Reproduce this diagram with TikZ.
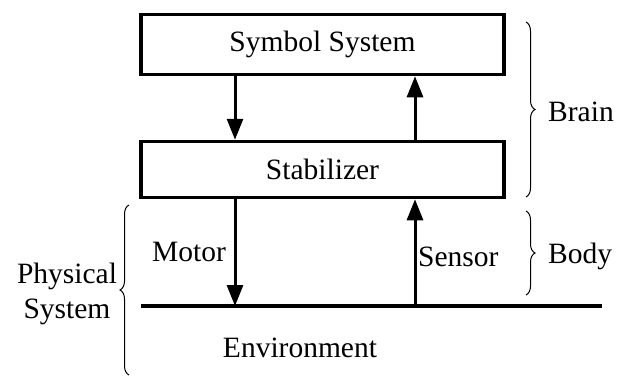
\documentclass[tikz,border=0pt]{standalone}
\usepackage{fontspec}
\setmainfont{Liberation Serif}
\usetikzlibrary{arrows.meta,decorations.pathreplacing}
\begin{document}
\begin{tikzpicture}[x=1pt,y=-1pt,
  box/.style={draw,line width=3.5pt,minimum width=363pt,inner sep=0pt,font=\fontsize{29.5}{34}\selectfont},
  lbl/.style={inner sep=0pt,font=\fontsize{29.5}{34}\selectfont},
  arr/.style={line width=3pt,-{Triangle[length=21pt,width=16pt]}},
  brc/.style={line width=1pt,decorate,decoration={brace,amplitude=9pt}}]
\useasboundingbox (0,0) rectangle (626,376);
\node[box,minimum height=60pt] (ss) at (322.5,44.5) {Symbol System};
\node[box,minimum height=56pt] (st) at (322.5,169.5) {Stabilizer};
\coordinate (envL) at (141,306);
\coordinate (envR) at (602,306);
\draw[line width=3.5pt] (envL) -- (envR);
\coordinate (mx) at (235,306);
\coordinate (sx) at (415,306);
\draw[arr] (ss.south -| mx) -- (st.north -| mx);
\draw[arr] (st.north -| sx) -- (ss.south -| sx);
\draw[arr] (st.south -| mx) -- (mx);
\draw[arr] (sx) -- (st.south -| sx);
\node[lbl,anchor=west] (motor) at (152,252) {Motor};
\node[lbl,anchor=west] (sensor) at (418,257) {Sensor};
\node[lbl] (env) at (300,348) {Environment};
\coordinate (brT) at (526,22);
\coordinate (brB) at (526,197);
\coordinate (boT) at (526,211);
\coordinate (boB) at (526,295);
\draw[brc] (brT) -- (brB);
\draw[brc] (boT) -- (boB);
\node[lbl,anchor=west] (brain) at (548,112) {Brain};
\node[lbl,anchor=west] (body) at (548,256) {Body};
\coordinate (phT) at (129,205);
\coordinate (phB) at (129,375);
\draw[brc] (phB) -- (phT);
\node[lbl,align=center,font=\fontsize{29.5}{35}\selectfont] (phys) at (67,294) {Physical\\System};
\end{tikzpicture}
\end{document}
